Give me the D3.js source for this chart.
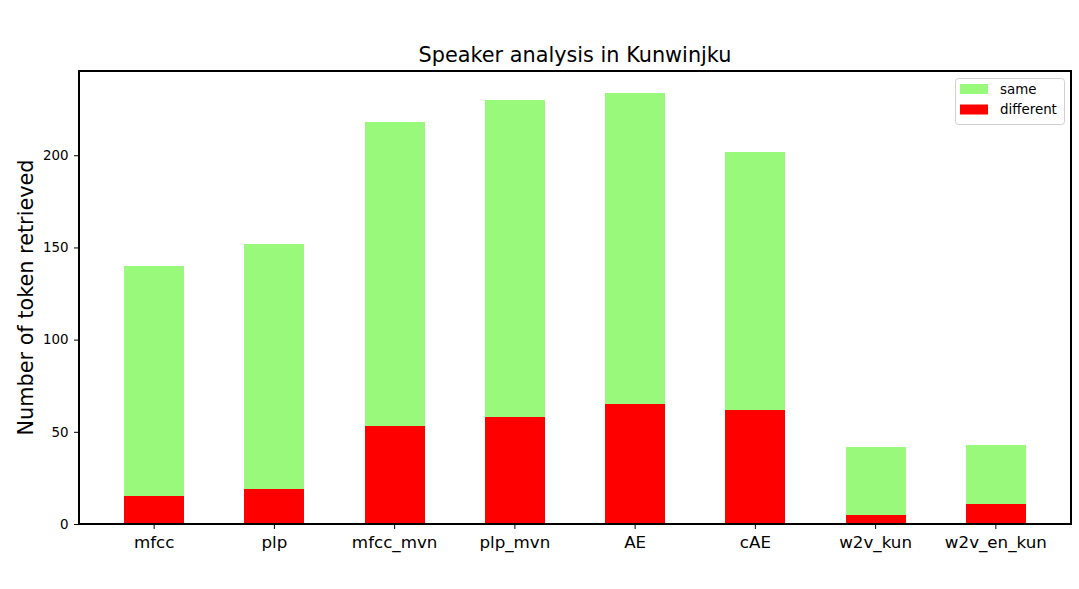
<!DOCTYPE html>
<html>
<head>
<meta charset="utf-8">
<script src="https://cdn.jsdelivr.net/npm/d3@7"></script>
<style>
html,body{margin:0;padding:0;background:#fff;}
svg{display:block;font-family:"DejaVu Sans",sans-serif;}
</style>
</head>
<body>
<svg id="chart" width="1079" height="589"></svg>
<script>
const categories = ["mfcc","plp","mfcc_mvn","plp_mvn","AE","cAE","w2v_kun","w2v_en_kun"];
const different = [15, 19, 53, 58, 65, 62, 5, 11];
const same = [125, 133, 165, 172, 169, 140, 37, 32];
const yTicks = [0, 50, 100, 150, 200];
const seriesNames = ["same", "different"];
const seriesColors = {same: "#99f97b", different: "#ff0000"};

const svg = d3.select("#chart");
const margin = {left: 79, right: 1071, top: 71, bottom: 524};

const totals = categories.map((c,i) => different[i] + same[i]);
const ymax = d3.max(totals) * 1.05;

const x = d3.scaleBand().domain(categories).range([margin.left, margin.right])
  .paddingInner(0.5).paddingOuter(0.375);
const y = d3.scaleLinear().domain([0, ymax]).range([margin.bottom, margin.top]);

const rows = categories.map((c,i) => ({cat: c, different: different[i], same: same[i]}));
const stack = d3.stack().keys(["different","same"])(rows);

svg.append("g").selectAll("g").data(stack).join("g")
  .attr("fill", d => seriesColors[d.key])
  .selectAll("rect").data(d => d).join("rect")
  .attr("x", d => x(d.data.cat))
  .attr("width", x.bandwidth())
  .attr("y", d => y(d[1]))
  .attr("height", d => y(d[0]) - y(d[1]))
  .attr("shape-rendering", "crispEdges");

// axes
const xAxis = svg.append("g").attr("transform", `translate(0,${margin.bottom})`)
  .call(d3.axisBottom(x).tickSizeOuter(0).tickSize(5).tickPadding(4));
xAxis.select(".domain").remove();
xAxis.selectAll("text").attr("font-size", 16.7).attr("font-family", "DejaVu Sans").attr("fill", "#000").attr("dy", "0.9em");
xAxis.selectAll("line").attr("stroke", "#000");

const yAxis = svg.append("g").attr("transform", `translate(${margin.left},0)`)
  .call(d3.axisLeft(y).tickValues(yTicks).tickSizeOuter(0).tickSize(5).tickPadding(5.5));
yAxis.select(".domain").remove();
yAxis.selectAll("text").attr("font-size", 13.4).attr("font-family", "DejaVu Sans").attr("fill", "#000");
yAxis.selectAll("line").attr("stroke", "#000");

// frame
svg.append("rect").attr("x", margin.left).attr("y", margin.top)
  .attr("width", margin.right - margin.left).attr("height", margin.bottom - margin.top)
  .attr("fill", "none").attr("stroke", "#000").attr("stroke-width", 1.1)
  .attr("shape-rendering", "crispEdges");

// title
svg.append("text").attr("x", (margin.left + margin.right)/2).attr("y", 62)
  .attr("text-anchor", "middle").attr("font-size", 20.8).attr("fill", "#000")
  .text("Speaker analysis in Kunwinjku");

// y label
svg.append("text").attr("transform", `translate(33,${(margin.top+margin.bottom)/2}) rotate(-90)`)
  .attr("text-anchor", "middle").attr("font-size", 20.8).attr("fill", "#000")
  .text("Number of token retrieved");

// legend
const lg = svg.append("g");
lg.append("rect").attr("x", 955.5).attr("y", 78.5).attr("width", 109).attr("height", 46)
  .attr("rx", 3).attr("fill", "#fff").attr("fill-opacity", 0.8).attr("stroke", "#d0d0d0");
seriesNames.forEach((s, i) => {
  const yy = 84 + i * 20.5;
  lg.append("rect").attr("x", 960).attr("y", yy).attr("width", 28).attr("height", 10)
    .attr("fill", seriesColors[s]);
  lg.append("text").attr("x", 1000).attr("y", yy + 5).attr("dy", "0.35em")
    .attr("font-size", 13.4).attr("fill", "#000").text(s);
});
</script>
</body>
</html>
